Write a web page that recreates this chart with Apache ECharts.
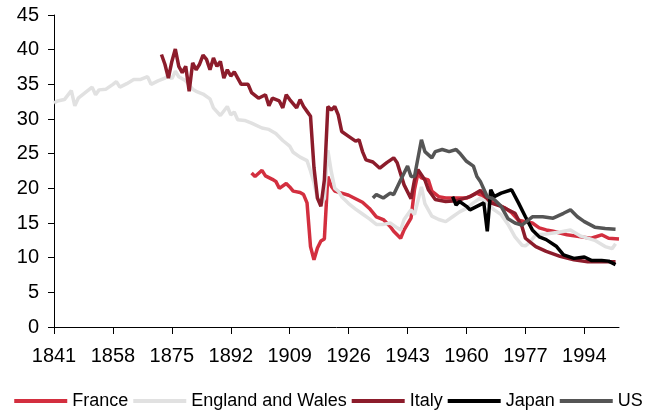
<!DOCTYPE html>
<html>
<head>
<meta charset="utf-8">
<title>Birth rates</title>
<script src="https://cdn.jsdelivr.net/npm/echarts@6/dist/echarts.min.js"></script>
<style>
  html, body { margin: 0; padding: 0; background: #fff; }
  #chart { width: 657px; height: 413px; }
</style>
</head>
<body>
<div id="chart"></div>
<script>
// years on the x axis
const firstYear = 1841;
const lastYear = 2004;

// England and Wales
const engYears = [1841, 1842, 1844, 1846, 1847, 1848, 1851, 1852, 1853, 1854, 1856, 1858, 1859, 1860, 1862, 1864, 1866, 1868, 1869, 1871, 1873, 1874, 1875, 1876, 1877, 1879, 1881, 1882, 1884, 1886, 1887, 1889, 1891, 1892, 1893, 1894, 1896, 1898, 1901, 1903, 1905, 1907, 1909, 1910, 1912, 1914, 1915, 1916, 1917, 1918, 1919, 1920, 1921, 1922, 1923, 1924, 1926, 1928, 1930, 1932, 1934, 1936, 1938, 1940, 1941, 1942, 1944, 1945, 1947, 1948, 1950, 1952, 1954, 1956, 1958, 1960, 1962, 1964, 1966, 1968, 1970, 1972, 1974, 1976, 1977, 1978, 1980, 1983, 1987, 1990, 1993, 1997, 2000, 2002, 2003];
const engValues = [32.3, 32.6, 32.8, 34.1, 31.9, 33.0, 34.2, 34.6, 33.5, 34.2, 34.3, 35.0, 35.4, 34.6, 35.1, 35.7, 35.7, 36.1, 35.0, 35.5, 35.9, 36.3, 35.8, 36.9, 36.1, 35.5, 34.3, 34.0, 33.6, 32.9, 31.6, 30.5, 31.8, 30.6, 31.0, 29.9, 29.8, 29.4, 28.7, 28.5, 27.9, 26.9, 26.1, 25.2, 24.5, 24.0, 22.5, 20.8, 18.5, 17.6, 18.5, 25.5, 22.4, 20.0, 19.6, 18.8, 17.8, 17.0, 16.3, 15.6, 14.8, 14.8, 15.0, 14.3, 14.0, 15.5, 16.9, 16.2, 20.2, 17.8, 16.0, 15.5, 15.2, 15.9, 16.6, 17.1, 17.9, 18.6, 17.8, 16.9, 16.2, 14.8, 13.0, 11.8, 11.7, 12.1, 13.3, 13.4, 13.7, 14.0, 13.1, 12.5, 11.6, 11.3, 12.0];

// Italy
const itaYears = [1872, 1873, 1874, 1875, 1876, 1877, 1878, 1879, 1880, 1881, 1882, 1883, 1884, 1885, 1886, 1887, 1888, 1889, 1890, 1891, 1892, 1893, 1895, 1897, 1898, 1900, 1902, 1903, 1904, 1906, 1907, 1908, 1909, 1911, 1912, 1913, 1914, 1915, 1916, 1917, 1918, 1919, 1920, 1921, 1922, 1923, 1924, 1926, 1928, 1929, 1930, 1931, 1933, 1935, 1937, 1939, 1940, 1942, 1944, 1945, 1946, 1948, 1949, 1951, 1954, 1957, 1961, 1964, 1967, 1970, 1974, 1976, 1977, 1980, 1983, 1987, 1991, 1995, 1999, 2003];
const itaValues = [39.3, 37.9, 35.9, 38.3, 40.1, 37.6, 36.7, 37.6, 34.0, 38.1, 37.1, 37.9, 39.2, 38.6, 37.1, 38.8, 37.6, 38.3, 35.9, 37.1, 36.2, 36.8, 35.0, 35.0, 33.8, 33.0, 33.5, 31.9, 33.0, 32.6, 31.6, 33.5, 32.8, 31.6, 32.8, 31.8, 31.1, 30.4, 23.0, 18.6, 17.4, 21.2, 31.8, 31.3, 31.8, 30.6, 28.2, 27.5, 26.8, 27.0, 25.3, 24.1, 23.8, 22.9, 23.7, 24.4, 23.7, 20.5, 18.5, 21.2, 22.7, 21.2, 19.8, 18.4, 18.1, 18.2, 18.8, 19.7, 17.9, 17.4, 16.4, 14.5, 12.8, 11.6, 10.9, 10.2, 9.7, 9.4, 9.4, 9.4];

// France
const fraYears = [1898, 1899, 1901, 1902, 1904, 1905, 1906, 1908, 1909, 1910, 1912, 1913, 1914, 1915, 1916, 1917, 1918, 1919, 1920, 1921, 1922, 1924, 1926, 1928, 1930, 1932, 1934, 1936, 1938, 1939, 1941, 1942, 1944, 1945, 1946, 1947, 1949, 1950, 1952, 1954, 1957, 1960, 1963, 1966, 1968, 1971, 1973, 1975, 1977, 1979, 1981, 1983, 1985, 1989, 1993, 1996, 1999, 2001, 2004];
const fraValues = [22.2, 21.7, 22.6, 21.8, 21.3, 21.0, 20.0, 20.7, 20.2, 19.6, 19.4, 19.1, 17.9, 11.6, 9.7, 11.4, 12.4, 12.7, 21.7, 20.3, 19.6, 19.3, 19.0, 18.5, 18.0, 17.1, 15.9, 15.5, 14.5, 13.8, 12.8, 14.0, 15.7, 19.8, 22.2, 21.5, 21.2, 19.6, 18.8, 18.6, 18.6, 18.6, 19.3, 18.6, 17.9, 17.2, 16.5, 15.4, 15.2, 15.0, 14.3, 14.0, 13.8, 13.3, 13.0, 12.8, 13.3, 12.8, 12.7];

// Japan
const jpnYears = [1956, 1957, 1958, 1960, 1961, 1963, 1965, 1966, 1967, 1968, 1970, 1973, 1975, 1977, 1979, 1981, 1983, 1986, 1988, 1991, 1994, 1996, 1999, 2001, 2003];
const jpnValues = [18.8, 17.6, 18.1, 17.4, 16.9, 17.4, 17.9, 13.8, 19.8, 18.8, 19.3, 19.8, 17.9, 15.9, 14.0, 13.0, 12.6, 11.6, 10.4, 9.9, 10.1, 9.6, 9.6, 9.5, 9.0];

// US
const usaYears = [1933, 1934, 1936, 1938, 1939, 1941, 1943, 1944, 1945, 1947, 1948, 1950, 1951, 1953, 1955, 1957, 1958, 1960, 1962, 1963, 1964, 1966, 1968, 1970, 1972, 1974, 1976, 1979, 1982, 1985, 1988, 1990, 1992, 1994, 1997, 2000, 2003];
const usaValues = [18.6, 19.1, 18.6, 19.3, 19.1, 21.2, 23.2, 21.7, 21.7, 27.0, 25.3, 24.4, 25.3, 25.6, 25.3, 25.6, 25.1, 23.9, 23.2, 21.7, 21.0, 18.8, 18.4, 17.4, 15.6, 15.0, 14.7, 15.9, 15.9, 15.7, 16.4, 16.9, 15.9, 15.2, 14.4, 14.2, 14.1];

// y axis ticks
const yMin = 0;
const yMax = 45;
const yStep = 5;

const categories = [];
for (let y = firstYear; y <= lastYear; y++) {
  categories.push(String(y));
}

function pairs(years, values) {
  return years.map((y, i) => [String(y), values[i]]);
}

const font = '"Liberation Sans", Arial, sans-serif';

function lineSeries(name, color, years, values) {
  return {
    name: name,
    type: 'line',
    data: pairs(years, values),
    showSymbol: false,
    symbol: 'none',
    lineStyle: { color: color, width: 3.5 },
    itemStyle: { color: color },
    emphasis: { disabled: true }
  };
}

const chart = echarts.init(document.getElementById('chart'));
const options = {
  animation: false,
  grid: { left: 54, right: 38, top: 15, bottom: 86 },
  legend: {
    left: 'center',
    top: 387,
    icon: 'rect',
    itemWidth: 53,
    itemHeight: 4,
    itemGap: 5,
    textStyle: { color: '#000', fontSize: 18, fontFamily: font },
    data: ['France', 'England and Wales', 'Italy', 'Japan', 'US']
  },
  xAxis: {
    type: 'category',
    data: categories,
    boundaryGap: false,
    axisLine: { lineStyle: { color: '#000', width: 1 } },
    axisTick: { interval: 16, length: 7, lineStyle: { color: '#000' } },
    axisLabel: { interval: 16, margin: 19, color: '#000', fontSize: 20, fontFamily: font },
    splitLine: { show: false }
  },
  yAxis: {
    type: 'value',
    min: yMin,
    max: yMax,
    interval: yStep,
    axisLine: { show: true, lineStyle: { color: '#000', width: 1 } },
    axisTick: { show: true, length: 6, lineStyle: { color: '#000' } },
    axisLabel: { margin: 15, color: '#000', fontSize: 20, fontFamily: font },
    splitLine: { show: false }
  },
  series: [
    lineSeries('France', '#d32f3f', fraYears, fraValues),
    lineSeries('England and Wales', '#e1e1e1', engYears, engValues),
    lineSeries('Italy', '#8c1c2b', itaYears, itaValues),
    lineSeries('Japan', '#000000', jpnYears, jpnValues),
    lineSeries('US', '#555555', usaYears, usaValues)
  ]
};
chart.setOption(options);
</script>
</body>
</html>
